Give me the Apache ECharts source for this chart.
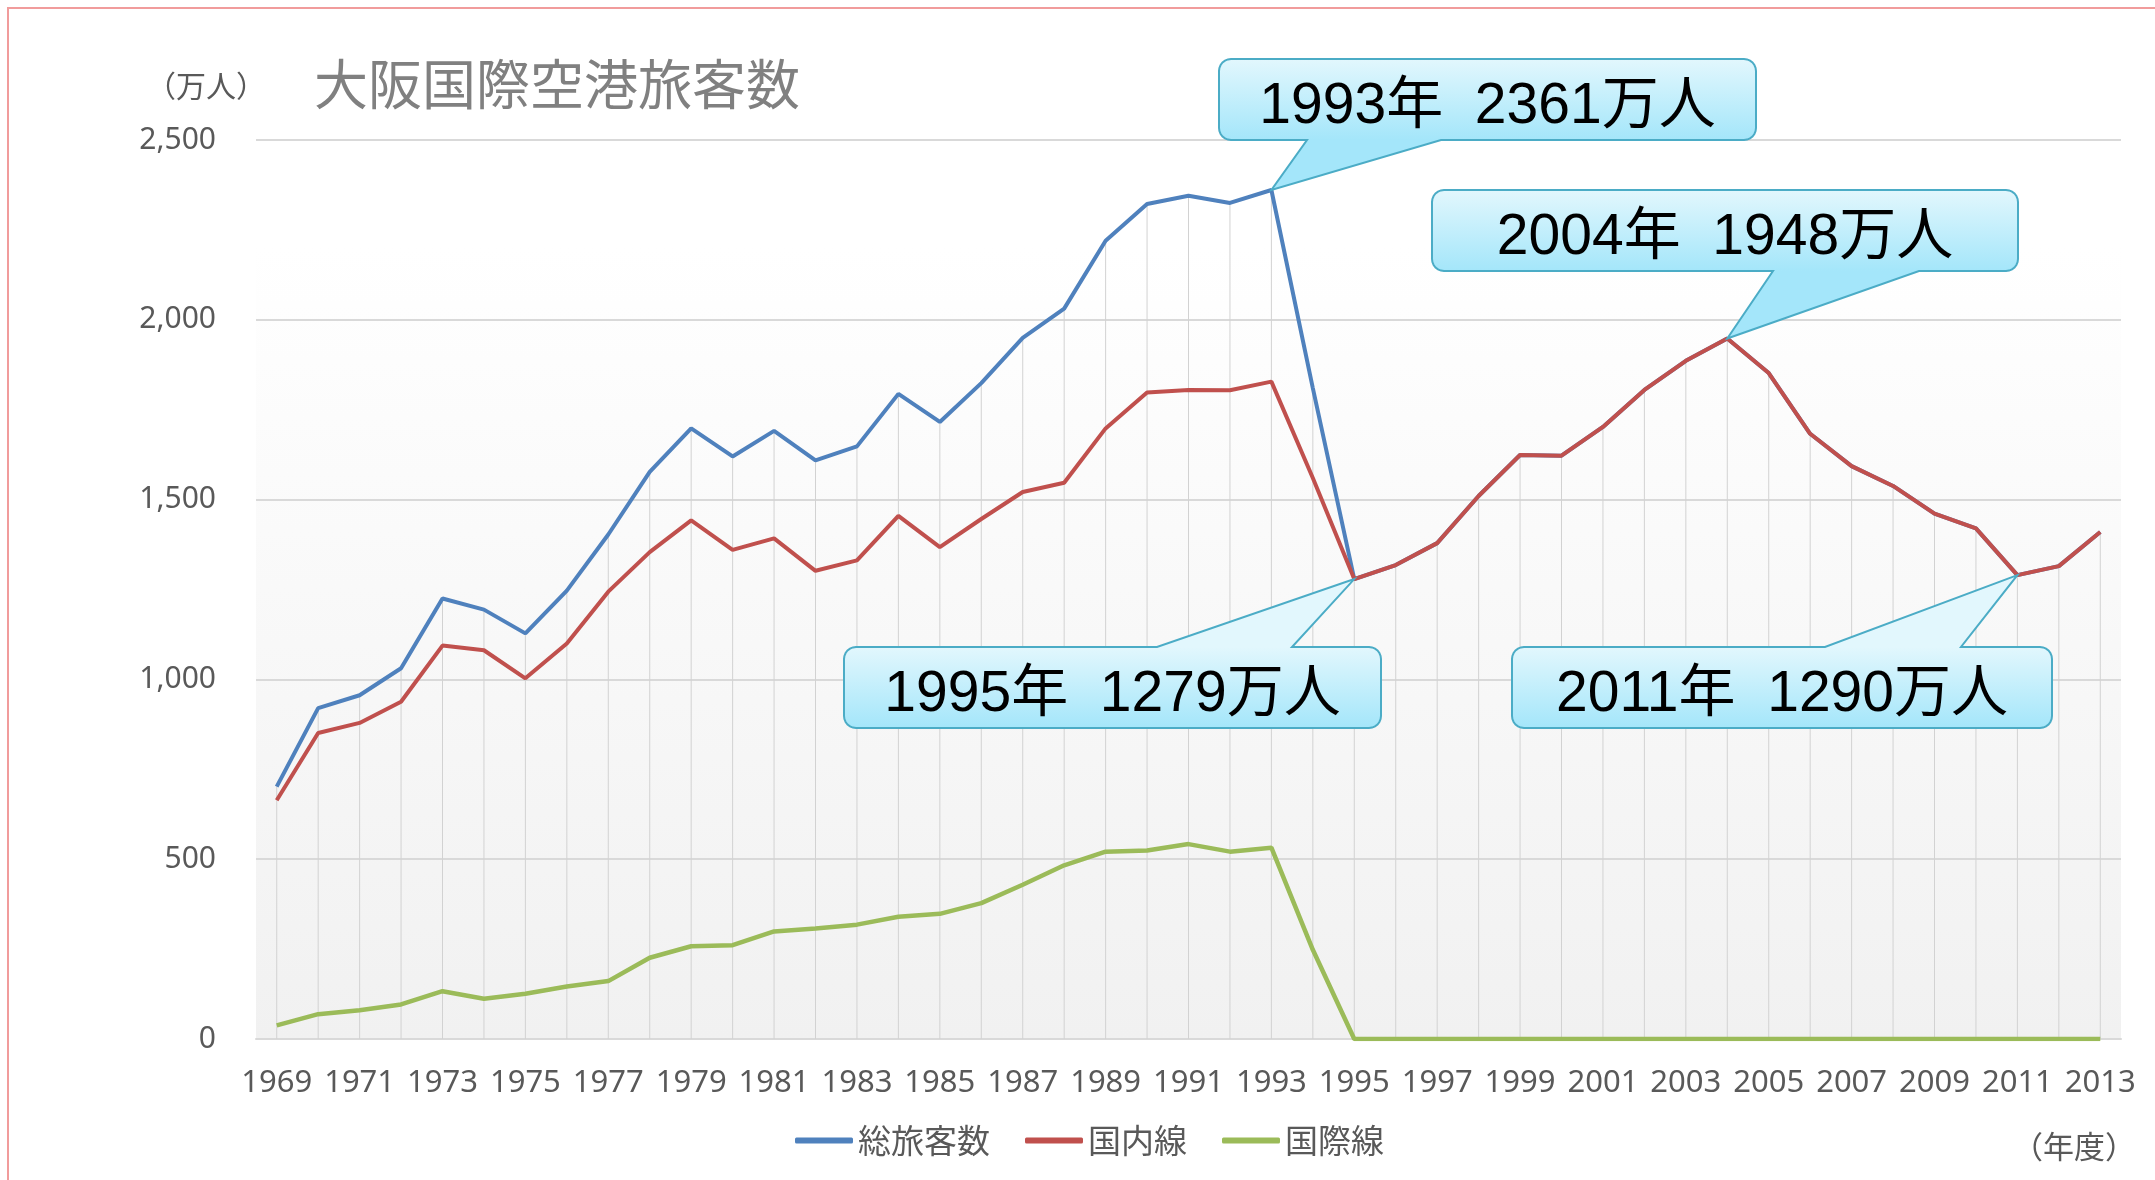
<!DOCTYPE html>
<html>
<head>
<meta charset="utf-8">
<title>大阪国際空港旅客数</title>
<script src="https://cdn.jsdelivr.net/npm/echarts@6.0.0/dist/echarts.min.js"></script>
<style>
    html, body { margin: 0; padding: 0; background: #ffffff; }
    #chart { width: 2155px; height: 1180px; }
</style>
</head>
<body>
<div id="chart"></div>
<script>
// 年度
var years = ['1969', '1970', '1971', '1972', '1973', '1974', '1975', '1976', '1977', '1978',
    '1979', '1980', '1981', '1982', '1983', '1984', '1985', '1986', '1987', '1988',
    '1989', '1990', '1991', '1992', '1993', '1994', '1995', '1996', '1997', '1998',
    '1999', '2000', '2001', '2002', '2003', '2004', '2005', '2006', '2007', '2008',
    '2009', '2010', '2011', '2012', '2013'];

// 総旅客数 (万人)
var totalPassengers = [702, 920, 956, 1031, 1225, 1194, 1128, 1247, 1403, 1577,
    1698, 1620, 1691, 1609, 1648, 1794, 1716, 1824, 1950, 2031,
    2220, 2322, 2345, 2325, 2361, 1810, 1279, 1318, 1379, 1510,
    1624, 1622, 1702, 1805, 1886, 1948, 1852, 1683, 1593, 1538,
    1461, 1420, 1290, 1315, 1410];

// 国内線 (万人)
var domestic = [664, 851, 879, 938, 1094, 1081, 1003, 1100, 1244, 1354,
    1442, 1360, 1392, 1302, 1331, 1455, 1368, 1446, 1521, 1547,
    1698, 1798, 1805, 1804, 1828, 1560, 1279, 1318, 1379, 1510,
    1624, 1622, 1702, 1805, 1886, 1948, 1852, 1683, 1593, 1538,
    1461, 1420, 1290, 1315, 1410];

// 国際線 (万人)
var international = [38, 69, 80, 96, 133, 112, 126, 146, 161, 226,
    258, 261, 299, 307, 318, 340, 348, 378, 429, 483,
    521, 524, 542, 521, 532, 248, 0, 0, 0, 0,
    0, 0, 0, 0, 0, 0, 0, 0, 0, 0,
    0, 0, 0, 0, 0];

var seriesNames = ['総旅客数', '国内線', '国際線'];
var seriesColors = ['#4F81BD', '#C0504D', '#9BBB59'];

// 吹き出し
var calloutYears = ['1993', '2004', '1995', '2011'];
var calloutValues = [2361, 1948, 1279, 1290];
var calloutTexts = ['1993年  2361万人', '2004年  1948万人', '1995年  1279万人', '2011年  1290万人'];
// box: [left, top, width, height], base: pointer base x range, side: box edge of pointer
var calloutLayout = [
    {box: [1219, 59, 537, 81], base: [1307, 1441], side: 'bottom'},
    {box: [1432, 190, 586, 81], base: [1773, 1919], side: 'bottom'},
    {box: [844, 647, 537, 81], base: [1157, 1292], side: 'top'},
    {box: [1512, 647, 540, 81], base: [1825, 1961], side: 'top'}
];

// 垂線 (各年度の最大値まで)
var dropLine = [];
for (var i = 0; i < years.length; i++) {
    dropLine.push(Math.max(totalPassengers[i], domestic[i], international[i]));
}

var textColor = '#595959';
var jpFont = '"Noto Sans CJK JP", "Noto Sans", sans-serif';
var numFont = '"Noto Sans", "Noto Sans CJK JP", sans-serif';

function withComma(v) {
    return String(v).replace(/\B(?=(\d{3})+(?!\d))/g, ',');
}

var chart = echarts.init(document.getElementById('chart'));

var option = {
    backgroundColor: '#ffffff',
    animation: false,
    grid: {
        left: 256,
        right: 34,
        top: 140,
        bottom: 141,
        show: true,
        borderWidth: 0,
        backgroundColor: {
            type: 'linear', x: 0, y: 0, x2: 0, y2: 1,
            colorStops: [
                {offset: 0, color: '#ffffff'},
                {offset: 0.12, color: '#ffffff'},
                {offset: 1, color: '#f1f1f1'}
            ]
        }
    },
    legend: {
        data: seriesNames,
        left: 790,
        top: 1119,
        icon: 'roundRect',
        itemWidth: 58,
        itemHeight: 6,
        itemGap: 35,
        textStyle: {
            color: textColor,
            fontSize: 33,
            fontFamily: jpFont
        }
    },
    xAxis: {
        type: 'category',
        data: years,
        boundaryGap: true,
        axisTick: {show: false},
        axisLine: {lineStyle: {color: '#d9d9d9', width: 2}},
        axisLabel: {
            interval: 1,
            color: textColor,
            fontSize: 31,
            fontFamily: numFont,
            margin: 29
        },
        splitLine: {show: false}
    },
    yAxis: {
        type: 'value',
        min: 0,
        max: 2500,
        interval: 500,
        axisLine: {show: false},
        axisTick: {show: false},
        axisLabel: {
            color: textColor,
            fontSize: 30,
            fontFamily: numFont,
            margin: 40,
            formatter: withComma
        },
        splitLine: {lineStyle: {color: '#d9d9d9', width: 2}}
    },
    series: [
        {
            name: 'drop',
            type: 'bar',
            data: dropLine,
            barWidth: 1,
            silent: true,
            itemStyle: {color: '#d2d2d2'}
        },
        {
            name: seriesNames[0],
            type: 'line',
            data: totalPassengers,
            symbol: 'none',
            color: seriesColors[0],
            lineStyle: {width: 4, color: seriesColors[0]}
        },
        {
            name: seriesNames[1],
            type: 'line',
            data: domestic,
            symbol: 'none',
            color: seriesColors[1],
            lineStyle: {width: 4, color: seriesColors[1]}
        },
        {
            name: seriesNames[2],
            type: 'line',
            data: international,
            symbol: 'none',
            color: seriesColors[2],
            lineStyle: {width: 4.5, color: seriesColors[2]}
        }
    ]
};

chart.setOption(option);

// 角丸の箱と三角の指し示し部分を一つの多角形にする
function calloutPoints(b, base, tip, side) {
    var x = b[0], y = b[1], w = b[2], h = b[3], r = 12;
    var pts = [];
    function arc(cx, cy, a0, a1) {
        for (var k = 0; k <= 6; k++) {
            var a = a0 + (a1 - a0) * k / 6;
            pts.push([cx + r * Math.cos(a), cy + r * Math.sin(a)]);
        }
    }
    arc(x + r, y + r, Math.PI, Math.PI * 1.5);
    if (side === 'top') {
        pts.push([base[0], y], tip, [base[1], y]);
    }
    arc(x + w - r, y + r, Math.PI * 1.5, Math.PI * 2);
    arc(x + w - r, y + h - r, 0, Math.PI * 0.5);
    if (side === 'bottom') {
        pts.push([base[1], y + h], tip, [base[0], y + h]);
    }
    arc(x + r, y + h - r, Math.PI * 0.5, Math.PI);
    return pts;
}

var graphics = [
    {
        type: 'rect',
        shape: {x: 8, y: 8, width: 2300, height: 1300},
        style: {fill: 'none', stroke: '#F19C9C', lineWidth: 2},
        silent: true
    },
    {
        type: 'text',
        x: 146, y: 86,
        style: {
            text: '（万人）',
            font: '30px ' + jpFont,
            fill: textColor,
            align: 'left', verticalAlign: 'middle',
            textAlign: 'left', textVerticalAlign: 'middle'
        }
    },
    {
        type: 'text',
        x: 314, y: 84,
        style: {
            text: '大阪国際空港旅客数',
            font: '54px ' + jpFont,
            fill: '#808080',
            align: 'left', verticalAlign: 'middle',
            textAlign: 'left', textVerticalAlign: 'middle'
        }
    },
    {
        type: 'text',
        x: 2012, y: 1146,
        style: {
            text: '（年度）',
            font: '31px ' + jpFont,
            fill: textColor,
            align: 'left', verticalAlign: 'middle',
            textAlign: 'left', textVerticalAlign: 'middle'
        }
    }
];

for (var c = 0; c < calloutYears.length; c++) {
    var lay = calloutLayout[c];
    var tip = chart.convertToPixel({gridIndex: 0}, [calloutYears[c], calloutValues[c]]);
    var b = lay.box;
    graphics.push({
        type: 'polygon',
        z: 100,
        shape: {points: calloutPoints(b, lay.base, tip, lay.side)},
        style: {
            fill: {
                type: 'linear', x: 0, y: b[1], x2: 0, y2: b[1] + b[3], global: true,
                colorStops: [
                    {offset: 0, color: '#E2F7FD'},
                    {offset: 1, color: '#A4E6FA'}
                ]
            },
            stroke: '#4BACC6',
            lineWidth: 2
        }
    });
    graphics.push({
        type: 'text',
        z: 101,
        x: b[0] + b[2] / 2,
        y: b[1] + b[3] / 2 + 8,
        style: {
            text: calloutTexts[c],
            font: '57px "Liberation Sans", "Noto Sans CJK JP", sans-serif',
            fill: '#000000',
            align: 'center', verticalAlign: 'middle',
            textAlign: 'center', textVerticalAlign: 'middle'
        }
    });
}

chart.setOption({graphic: graphics});
</script>
</body>
</html>
